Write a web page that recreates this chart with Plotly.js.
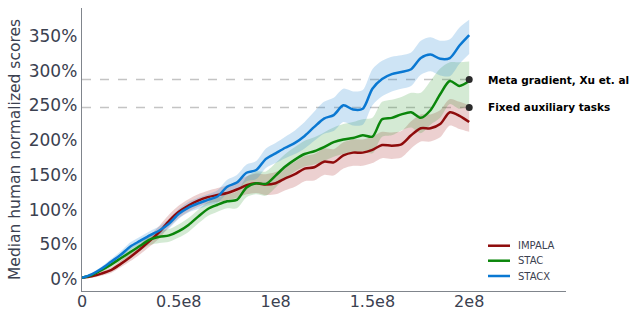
<!DOCTYPE html>
<html>
<head>
<meta charset="utf-8">
<script src="https://cdn.plot.ly/plotly-3.0.1.min.js"></script>
<style>html,body{margin:0;padding:0;background:#fff}#chart{width:630px;height:309px}</style>
</head>
<body>
<div id="chart"></div>
<script>
// x in units of 1e8 environment steps
const steps = [0,0.05,0.1,0.15,0.2,0.25,0.3,0.35,0.4,0.45,0.5,0.55,0.6,0.65,0.7,0.75,0.8,0.85,0.9,0.95,1.0,1.05,1.1,1.15,1.2,1.25,1.3,1.35,1.4,1.45,1.5,1.55,1.6,1.65,1.7,1.75,1.8,1.85,1.9,1.95,2.0];

const impala   = [2,4,8,13,22,32,43,55,68,84,97,106,113,118,121,124,129,135,138,136,138,145,151,159,161,169,168,178,182,182,186,193,192,194,207,217,217,223,240,235,226];
const impalaHi = [2,6,11,17,27,38,50,63,77,93,106,115,122,127,131,135,141,148,152,151,154,162,169,177,180,188,187,197,201,201,205,212,211,213,227,237,237,243,259,255,250];
const impalaLo = [2,2,5,9,17,26,36,47,59,75,88,97,104,109,111,113,117,122,124,121,122,128,133,141,142,150,149,159,163,163,167,174,173,175,188,198,198,204,221,216,212];

const stac   = [2,6,13,21,30,39,48,57,61,63,69,78,90,101,107,112,114,132,138,137,149,162,172,180,184,190,197,201,203,207,205,230,232,237,240,232,243,266,285,278,285];
const stacHi = [2,8,16,25,35,45,55,65,70,72,79,88,100,111,117,122,126,147,155,155,167,180,190,199,204,211,218,223,226,230,232,255,258,262,268,268,285,303,312,312,313];
const stacLo = [2,4,10,17,25,33,41,49,52,54,60,68,80,91,97,102,102,118,122,120,132,145,155,162,165,170,176,180,181,184,181,205,207,214,218,210,222,232,252,245,250];

const stacx   = [2,7,15,25,35,47,55,63,70,80,94,103,109,114,119,133,139,153,157,173,181,189,196,206,219,231,236,250,244,245,274,288,295,298,302,318,323,317,318,336,351];
const stacxHi = [2,9,18,29,40,53,61,69,76,87,101,111,117,122,128,143,150,165,170,188,196,205,214,226,241,255,261,274,270,272,302,314,320,322,326,343,348,343,345,362,373];
const stacxLo = [2,5,12,21,30,42,49,57,64,73,87,96,101,106,110,123,128,141,144,160,167,174,180,188,199,209,213,226,221,222,250,263,270,274,278,294,299,293,292,310,324];

const refLabels = ["Meta gradient, Xu et. al", "Fixed auxiliary tasks"];
const refValues = [287, 247];
const refX = [0, 2.0];

const xTickVals = [0, 0.5, 1, 1.5, 2];
const xTickText = ["0", "0.5e8", "1e8", "1.5e8", "2e8"];
const yTickVals = [0, 50, 100, 150, 200, 250, 300, 350];
const yTickText = ["0%", "50%", "100%", "150%", "200%", "250%", "300%", "350%"];

const series = [
  {name: "IMPALA", y: impala, hi: impalaHi, lo: impalaLo, color: "#8e0b0b", band: "rgba(170,40,40,0.22)"},
  {name: "STAC",   y: stac,   hi: stacHi,   lo: stacLo,   color: "#0b860b", band: "rgba(40,150,40,0.2)"},
  {name: "STACX",  y: stacx,  hi: stacxHi,  lo: stacxLo,  color: "#0a78d2", band: "rgba(30,130,210,0.22)"}
];

const traces = [];
refValues.forEach(v => {
  traces.push({x: refX, y: [v, v], mode: "lines", line: {color: "#c4c4c4", width: 1.5, dash: "dash"}, showlegend: false, hoverinfo: "skip"});
});
series.forEach(s => {
  traces.push({x: steps, y: s.lo, mode: "lines", line: {width: 0, shape: "spline", smoothing: 0.8}, showlegend: false, hoverinfo: "skip"});
  traces.push({x: steps, y: s.hi, mode: "lines", line: {width: 0, shape: "spline", smoothing: 0.8}, fill: "tonexty", fillcolor: s.band, showlegend: false, hoverinfo: "skip"});
});
series.forEach(s => {
  traces.push({x: steps, y: s.y, mode: "lines", name: s.name, showlegend: false, line: {color: s.color, width: 2.5, shape: "spline", smoothing: 0.8}});
});
traces.push({x: refValues.map(() => refX[1]), y: refValues, mode: "markers", marker: {color: "#2b2b2b", size: 7}, showlegend: false, hoverinfo: "skip"});

const annotations = refLabels.map((t, i) => ({
  x: 2.085, y: refValues[i], xref: "x", yref: "y", xanchor: "left", yanchor: "middle",
  text: "<b>" + t + "</b>", showarrow: false,
  font: {family: "DejaVu Sans", size: 10.5, color: "#000"}
}));

// compact legend (line sample + label) in the lower right of the plot
const shapes = [];
const legY = [0.160, 0.107, 0.053];
series.forEach((s, i) => {
  shapes.push({type: "line", xref: "paper", yref: "paper", x0: 0.8388, x1: 0.8843, y0: legY[i], y1: legY[i],
               line: {color: s.color, width: 2.5}});
  annotations.push({x: 0.8975, y: legY[i], xref: "paper", yref: "paper", xanchor: "left", yanchor: "middle",
                    text: s.name, showarrow: false, font: {family: "DejaVu Sans", size: 10, color: "#3b4150"}});
});

const layout = {
  width: 630, height: 309,
  margin: {l: 82, r: 64, t: 8, b: 18},
  paper_bgcolor: "#fff", plot_bgcolor: "#fff",
  font: {family: "DejaVu Sans", color: "#3b4150"},
  showlegend: false,
  xaxis: {range: [0, 2.5], tickmode: "array", tickvals: xTickVals, ticktext: xTickText, showgrid: false, zeroline: false,
          showline: true, linecolor: "#80858c", linewidth: 1.3, ticks: "", ticklabelstandoff: -5,
          tickfont: {size: 16, color: "#3b4150"}},
  yaxis: {range: [-17, 390], tickmode: "array", tickvals: yTickVals, ticktext: yTickText, showgrid: false, zeroline: false,
          showline: true, linecolor: "#80858c", linewidth: 1.3, ticks: "", tickfont: {size: 17, color: "#3b4150"},
          title: {text: "Median human normalized scores", font: {size: 15.5, color: "#3b4150"}, standoff: 4}},
  annotations: annotations,
  shapes: shapes
};

Plotly.newPlot("chart", traces, layout, {displayModeBar: false, staticPlot: true});
</script>
</body>
</html>
